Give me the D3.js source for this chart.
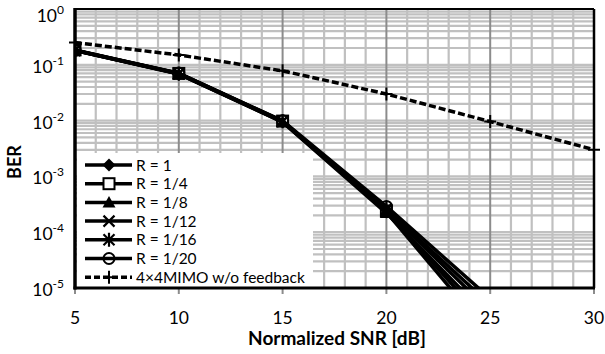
<!DOCTYPE html>
<html>
<head>
<meta charset="utf-8">
<script src="https://cdn.jsdelivr.net/npm/d3@7"></script>
<style>
  body { margin: 0; background: #fff; }
  svg { font-family: Lato, "Open Sans", sans-serif; }
</style>
</head>
<body>
<div id="chart"></div>
<script>
// SNR points (dB)
const snr = [5, 10, 15, 20, 25];
const snrMimo = [5, 10, 15, 20, 25, 30];

const seriesNames = ['R = 1', 'R = 1/4', 'R = 1/8', 'R = 1/12', 'R = 1/16', 'R = 1/20'];
const berR1 = [0.18, 0.068, 0.0095, 2.3e-4, 1.4e-6];
const berR4 = [0.185, 0.07, 0.0098, 2.4e-4, 2e-6];
const berR8 = [0.18, 0.069, 0.0094, 2.2e-4, 2.8e-6];
const berR12 = [0.182, 0.07, 0.0096, 2.5e-4, 3.8e-6];
const berR16 = [0.18, 0.069, 0.0097, 2.6e-4, 5e-6];
const berR20 = [0.183, 0.071, 0.0099, 2.9e-4, 6.5e-6];
const berMimo = [0.25, 0.15, 0.078, 0.03, 0.0096, 0.003];

const xTicks = [5, 10, 15, 20, 25, 30];
const yExps = [0, -1, -2, -3, -4, -5];

const width = 605, height = 354;
const margin = { top: 9, right: 11, bottom: 66, left: 75 };
const w = width - margin.left - margin.right;
const h = height - margin.top - margin.bottom;

const svg = d3.select('#chart').append('svg')
  .attr('width', width).attr('height', height);

const g = svg.append('g').attr('transform', `translate(${margin.left},${margin.top})`);

const x = d3.scaleLinear().domain([5, 30]).range([0, w]);
const y = d3.scaleLog().domain([1e-5, 1]).range([h, 0]);

// grid: minor verticals
const minorX = d3.range(6, 30).filter(d => d % 5 !== 0);
g.selectAll('.vminor').data(minorX).enter().append('line')
  .attr('x1', d => x(d)).attr('x2', d => x(d))
  .attr('y1', 0).attr('y2', h)
  .attr('stroke', '#c0c0c0').attr('stroke-width', 2.2);

// grid: horizontal lines (1..9 in each decade)
const hLines = [];
for (let e = -5; e < 0; e++) {
  for (let m = 1; m <= 9; m++) hLines.push(m * Math.pow(10, e));
}
g.selectAll('.hgrid').data(hLines).enter().append('line')
  .attr('x1', 0).attr('x2', w)
  .attr('y1', d => y(d)).attr('y2', d => y(d))
  .attr('stroke', '#c0c0c0').attr('stroke-width', 2.2);

// grid: major verticals
g.selectAll('.vmajor').data([10, 15, 20, 25]).enter().append('line')
  .attr('x1', d => x(d)).attr('x2', d => x(d))
  .attr('y1', 0).attr('y2', h)
  .attr('stroke', '#8c8c8c').attr('stroke-width', 2);

svg.append('defs').append('clipPath').attr('id', 'clip')
  .append('rect').attr('x', 0).attr('y', 0).attr('width', w).attr('height', h);

const plot = g.append('g').attr('clip-path', 'url(#clip)');

const rSeries = [berR1, berR4, berR8, berR12, berR16, berR20];
const markerTypes = ['diamond', 'square', 'triangle', 'x', 'asterisk', 'circle'];

const line = d3.line().x(d => x(d[0])).y(d => y(d[1]));

function drawMarker(sel, type, cx, cy) {
  const s = sel.append('g').attr('transform', `translate(${cx},${cy})`);
  if (type === 'diamond') {
    s.append('path').attr('d', 'M0,-6.5L6.5,0L0,6.5L-6.5,0Z').attr('fill', '#000');
  } else if (type === 'square') {
    s.append('rect').attr('x', -5.5).attr('y', -5.5).attr('width', 11).attr('height', 11)
      .attr('fill', '#fff').attr('stroke', '#000').attr('stroke-width', 2);
  } else if (type === 'triangle') {
    s.append('path').attr('d', 'M0,-6.5L6.5,5L-6.5,5Z').attr('fill', '#000');
  } else if (type === 'x') {
    s.append('path').attr('d', 'M-5.5,-5.5L5.5,5.5M-5.5,5.5L5.5,-5.5').attr('stroke', '#000').attr('stroke-width', 2.2);
  } else if (type === 'asterisk') {
    s.append('path').attr('d', 'M-5.5,-5.5L5.5,5.5M-5.5,5.5L5.5,-5.5M0,-7L0,7').attr('stroke', '#000').attr('stroke-width', 2.2);
  } else if (type === 'circle') {
    s.append('circle').attr('r', 5.5).attr('fill', 'none').attr('stroke', '#000').attr('stroke-width', 2);
  } else if (type === 'plus') {
    s.append('path').attr('d', 'M-6,0L6,0M0,-6.5L0,6.5').attr('stroke', '#000').attr('stroke-width', 2);
  }
}

// R series: line then markers, series by series
rSeries.forEach((vals, k) => {
  plot.append('path')
    .datum(snr.map((s, i) => [s, vals[i]]))
    .attr('d', line).attr('fill', 'none')
    .attr('stroke', '#000').attr('stroke-width', 3.5);
  snr.forEach((s, i) => {
    if (vals[i] >= 1e-5) drawMarker(plot, markerTypes[k], x(s), y(vals[i]));
  });
});

// MIMO dashed
plot.append('path')
  .datum(snrMimo.map((s, i) => [s, berMimo[i]]))
  .attr('d', line).attr('fill', 'none')
  .attr('stroke', '#000').attr('stroke-width', 3.5).attr('stroke-dasharray', '7,3');
snrMimo.forEach((s, i) => drawMarker(g, 'plus', x(s), y(berMimo[i])));

// legend
const legX = 2, legY = 144;
const lg = g.append('g');
lg.append('rect').attr('x', legX).attr('y', legY).attr('width', 236).attr('height', h - legY)
  .attr('fill', '#fff');
const legItems = seriesNames.map((n, i) => ({ name: n, type: markerTypes[i], dash: false }))
  .concat([{ name: '4\u00d74MIMO w/o feedback', type: 'plus', dash: true }]);
legItems.forEach((d, i) => {
  const cy = 156 + i * 18.7;
  lg.append('line').attr('x1', 10).attr('x2', 57).attr('y1', cy).attr('y2', cy)
    .attr('stroke', '#000').attr('stroke-width', d.dash ? 3.5 : 3.5)
    .attr('stroke-dasharray', d.dash ? '6,3' : null);
  drawMarker(lg, d.type, 34, cy);
  lg.append('text').attr('x', 61).attr('y', cy).attr('dy', '0.36em')
    .attr('font-size', 15.5).attr('fill', '#000').text(d.name);
});

// frame
g.append('line').attr('x1', 0).attr('x2', w).attr('y1', 0).attr('y2', 0)
  .attr('stroke', '#000').attr('stroke-width', 2);
g.append('line').attr('x1', w).attr('x2', w).attr('y1', 0).attr('y2', h)
  .attr('stroke', '#000').attr('stroke-width', 2.5);

// x axis
g.selectAll('.xtick').data(xTicks).enter().append('line')
  .attr('x1', d => x(d)).attr('x2', d => x(d))
  .attr('y1', h).attr('y2', h + 6)
  .attr('stroke', '#8c8c8c').attr('stroke-width', 2);
g.append('line').attr('x1', -1.5).attr('x2', w + 1).attr('y1', h).attr('y2', h)
  .attr('stroke', '#000').attr('stroke-width', 3);
g.append('line').attr('x1', 0).attr('x2', 0).attr('y1', -1).attr('y2', h + 1.5)
  .attr('stroke', '#000').attr('stroke-width', 3.5);

g.selectAll('.xlab').data(xTicks).enter().append('text')
  .attr('x', d => x(d)).attr('y', h + 36)
  .attr('text-anchor', 'middle').attr('font-size', 17.5).attr('fill', '#000')
  .text(d => d);

// y labels
yExps.forEach(e => {
  const ty = Math.max(y(Math.pow(10, e)) + 8, 13);
  const t = g.append('text').attr('x', -11).attr('y', ty)
    .attr('text-anchor', 'end').attr('font-size', 17.5).attr('fill', '#000');
  t.append('tspan').text('10');
  t.append('tspan').attr('dy', -8).attr('font-size', 12).text(e);
});

// titles
svg.append('text').attr('x', 337).attr('y', 345)
  .attr('text-anchor', 'middle').attr('font-size', 19).attr('font-weight', 'bold')
  .text('Normalized SNR [dB]');
svg.append('text').attr('transform', 'translate(21,162) rotate(-90)')
  .attr('text-anchor', 'middle').attr('font-size', 18).attr('font-weight', 'bold')
  .text('BER');
</script>
</body>
</html>
